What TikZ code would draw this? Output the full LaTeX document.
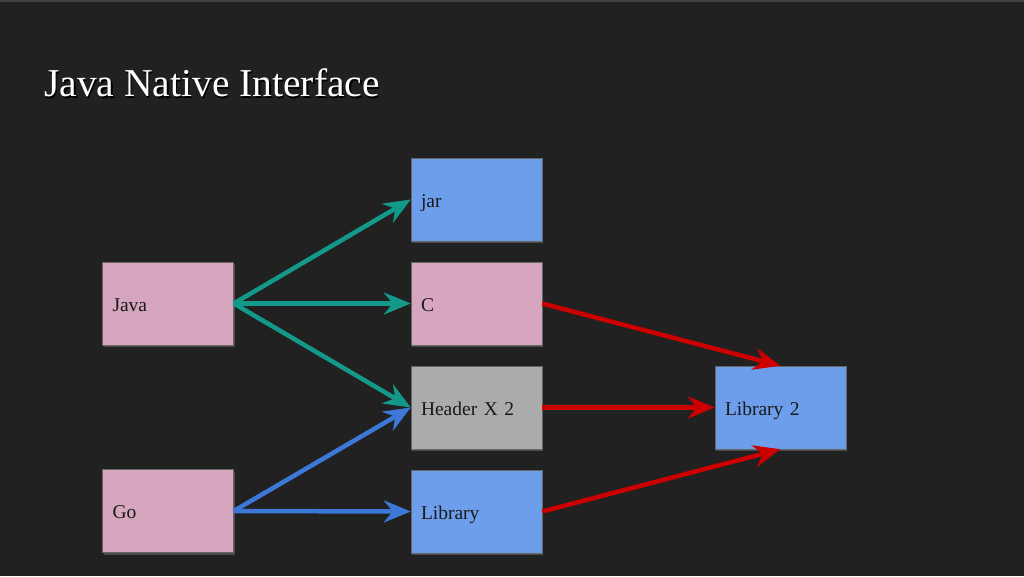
\documentclass[tikz,border=0pt]{standalone}
\usepackage{fontspec}
\setmainfont{Liberation Serif}
\usepackage{tikz}
\usetikzlibrary{arrows.meta,shadows}

\definecolor{slidebg}{HTML}{212121}
\definecolor{pinkbox}{HTML}{D5A6BD}
\definecolor{bluebox}{HTML}{6D9EEB}
\definecolor{graybox}{HTML}{ABABAB}
\definecolor{tealarrow}{HTML}{13998A}
\definecolor{bluearrow}{HTML}{3C78D8}
\definecolor{redarrow}{HTML}{CC0000}

\begin{document}
\begin{tikzpicture}[x=1pt, y=-1pt,
    box/.style={draw=black!60, line width=0.4pt, rectangle, text width=111pt, inner xsep=10pt, align=left, minimum height=83pt, text height=15pt, text depth=0pt, font=\fontsize{19.5}{22}\selectfont, text=black!90, drop shadow={opacity=0.45, shadow xshift=1pt, shadow yshift=-2pt}},
    link/.style={line width=4.5pt, -{Stealth[length=27pt, width=22pt, inset=9pt]}}]
    % Background
    \fill[slidebg] (0,0) rectangle (1024,576);
    \fill[black!75] (0,0) rectangle (1024,1.5);
    \useasboundingbox (0,0) rectangle (1024,576);

    % Title
    \node[anchor=base west, inner sep=0pt, text=black, font=\fontsize{39.5}{44}\selectfont] (titleshadow) at (45.5,98) {Java Native Interface};
    \node[anchor=base west, inner sep=0pt, text=white, font=\fontsize{39.5}{44}\selectfont] (title) at (44,96) {Java Native Interface};

    % Sources
    \node[box, fill=pinkbox] (java) at (168,303.5) {Java};
    \node[box, fill=pinkbox] (go) at (168,511) {Go};

    % Middle column
    \node[box, fill=bluebox] (jar) at (476.5,199.5) {jar};
    \node[box, fill=pinkbox] (c) at (476.5,303.5) {C};
    \node[box, fill=graybox] (header) at (476.5,407.5) {Header X 2};
    \node[box, fill=bluebox] (library) at (476.5,511.5) {Library};

    % Target
    \node[box, fill=bluebox] (library2) at (780.5,407.5) {Library 2};

    % Edges
    \draw[link, tealarrow] (java.east) -- (jar.west);
    \draw[link, tealarrow] (java.east) -- (c.west);
    \draw[link, tealarrow] (java.east) -- (header.west);
    \draw[link, bluearrow] (go.east) -- (header.west);
    \draw[link, bluearrow] (go.east) -- (library.west);
    \draw[link, redarrow] (c.east) -- (library2.north);
    \draw[link, redarrow] (header.east) -- (library2.west);
    \draw[link, redarrow] (library.east) -- (library2.south);
\end{tikzpicture}
\end{document}
